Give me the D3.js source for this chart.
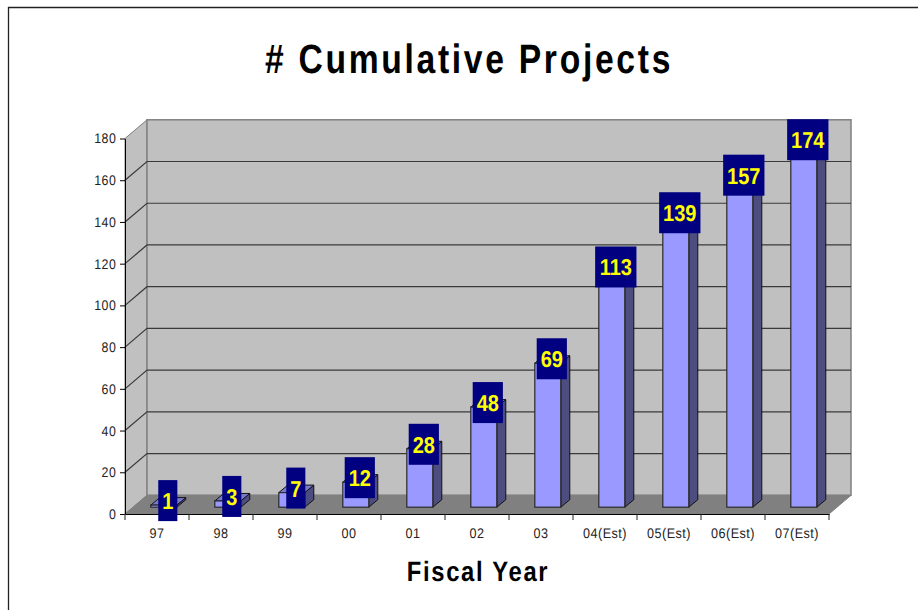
<!DOCTYPE html>
<html>
<head>
<meta charset="utf-8">
<script src="https://cdn.jsdelivr.net/npm/d3@7"></script>
<style>
  html,body{margin:0;padding:0;background:#fff;}
  svg{display:block;}
  text{font-family:"Liberation Sans",Arial,sans-serif;text-rendering:geometricPrecision;}
  .axis text{font-size:14px;fill:#222;letter-spacing:.5px;}
  .axis line,.axis path{stroke:#000;}
</style>
</head>
<body>
<div id="chart"></div>
<script>
const years = ['97','98','99','00','01','02','03','04(Est)','05(Est)','06(Est)','07(Est)'];
const projects = [1,3,7,12,28,48,69,113,139,157,174];
const yTicks = [0,20,40,60,80,100,120,140,160,180];

const W = 918, H = 610;
const m = {left:125,right:829,top:138.5,bottom:514};
// wall depth and bar depth of the fake 3d
const dx = 22, dy = 18.7, barDx = 9, barDy = 7.5, barIn = 6.8;

const svg = d3.select('#chart').append('svg').attr('width',W).attr('height',H);

const xSc = d3.scaleBand().domain(years).range([m.left,m.right]).paddingInner(0.594).paddingOuter(0.297);
const ySc = d3.scaleLinear().domain([0,180]).range([m.bottom,m.top]);

// outer frame
svg.append('path').attr('d',`M8.5,${H}V7.5H${W}`).attr('fill','none').attr('stroke','#222').attr('stroke-width',1.3);

// walls
const yTop = ySc(180), yBot = ySc(0);
svg.append('path').attr('d',`M${m.left},${yBot}L${m.left},${yTop}L${m.left+dx},${yTop-dy}L${m.left+dx},${yBot-dy}Z`)
  .attr('fill','#c0c0c0').attr('stroke','#808080');
svg.append('rect').attr('x',m.left+dx).attr('y',yTop-dy).attr('width',m.right-m.left).attr('height',yBot-yTop)
  .attr('fill','#c0c0c0').attr('stroke','#808080').attr('stroke-width',1.5);
svg.append('path').attr('d',`M${m.left},${yBot}L${m.left+dx},${yBot-dy}L${m.right+dx},${yBot-dy}L${m.right},${yBot}Z`)
  .attr('fill','#808080').attr('stroke','#808080');

// gridlines, back wall and side wall
const grid = svg.append('g').attr('fill','none');
yTicks.slice(1,-1).forEach(v => {
  grid.append('path').attr('d',`M${m.left},${ySc(v)}L${m.left+dx},${ySc(v)-dy}L${m.right+dx},${ySc(v)-dy}`)
    .attr('stroke','#3a3a3a').attr('stroke-width',1.2);
});

// bars
const bars = svg.append('g').selectAll('g').data(projects).join('g')
  .attr('transform',(d,i)=>`translate(${xSc(years[i])+barIn},${-barIn})`);
bars.append('path') // side
  .attr('d',d=>`M${xSc.bandwidth()},${ySc(0)}L${xSc.bandwidth()+barDx},${ySc(0)-barDy}L${xSc.bandwidth()+barDx},${ySc(d)-barDy}L${xSc.bandwidth()},${ySc(d)}Z`)
  .attr('fill','#4d4d80').attr('stroke','#111');
bars.append('path') // top
  .attr('d',d=>`M0,${ySc(d)}L${barDx},${ySc(d)-barDy}L${xSc.bandwidth()+barDx},${ySc(d)-barDy}L${xSc.bandwidth()},${ySc(d)}Z`)
  .attr('fill','#7a7acc').attr('stroke','#111');
bars.append('rect') // front
  .attr('y',d=>ySc(d)).attr('width',xSc.bandwidth()).attr('height',d=>ySc(0)-ySc(d))
  .attr('fill','#9999ff').attr('stroke','#2a2a2a').attr('stroke-width',1.2);

// axes, the source text is a bit condensed so squeeze it
svg.append('g').attr('class','axis').attr('transform',`translate(${m.left},0)`)
  .call(d3.axisLeft(ySc).tickValues(yTicks).tickSize(5).tickSizeOuter(0).tickPadding(4))
  .call(g=>g.selectAll('.tick text').attr('transform','scale(.88,1)').attr('x',-10));
svg.append('g').attr('class','axis').attr('transform',`translate(0,${m.bottom})`)
  .call(d3.axisBottom(xSc).tickSize(0).tickSizeOuter(0).tickPadding(14))
  .call(g=>g.selectAll('.tick text').attr('transform','scale(.9,1)'));
const xTicks = svg.append('g');
d3.range(years.length+1).forEach(i => {
  const x = m.left + i*xSc.step();
  xTicks.append('line').attr('x1',x).attr('x2',x).attr('y1',m.bottom).attr('y2',m.bottom+6).attr('stroke','#222');
});

// value labels go last so the boxes sit on top
const labels = svg.append('g').selectAll('g').data(projects).join('g')
  .attr('transform',(d,i)=>`translate(${xSc(years[i])+barIn+xSc.bandwidth()/2+barDx/2-0.5},${ySc(d)-barIn-4.5})`);
labels.append('rect')
  .attr('x',d=>-(String(d).length*11.1+8)/2).attr('y',-20.5)
  .attr('width',d=>String(d).length*11.1+8).attr('height',41)
  .attr('fill','#000080');
labels.append('text').attr('text-anchor','middle').attr('y',8.5).attr('transform','scale(.87,1)')
  .style('font-size','23px').style('font-weight','700').style('fill','#ffff00')
  .text(d=>d);

// titles
svg.append('text').attr('text-anchor','middle').attr('transform','translate(469,73) scale(.82,1)')
  .style('font-size','41px').style('font-weight','700').style('letter-spacing','3.3px').style('fill','#000')
  .text('# Cumulative Projects');
svg.append('text').attr('text-anchor','middle').attr('transform','translate(478,581) scale(.85,1)')
  .style('font-size','28px').style('font-weight','700').style('letter-spacing','2px').style('fill','#000')
  .text('Fiscal Year');
</script>
</body>
</html>
